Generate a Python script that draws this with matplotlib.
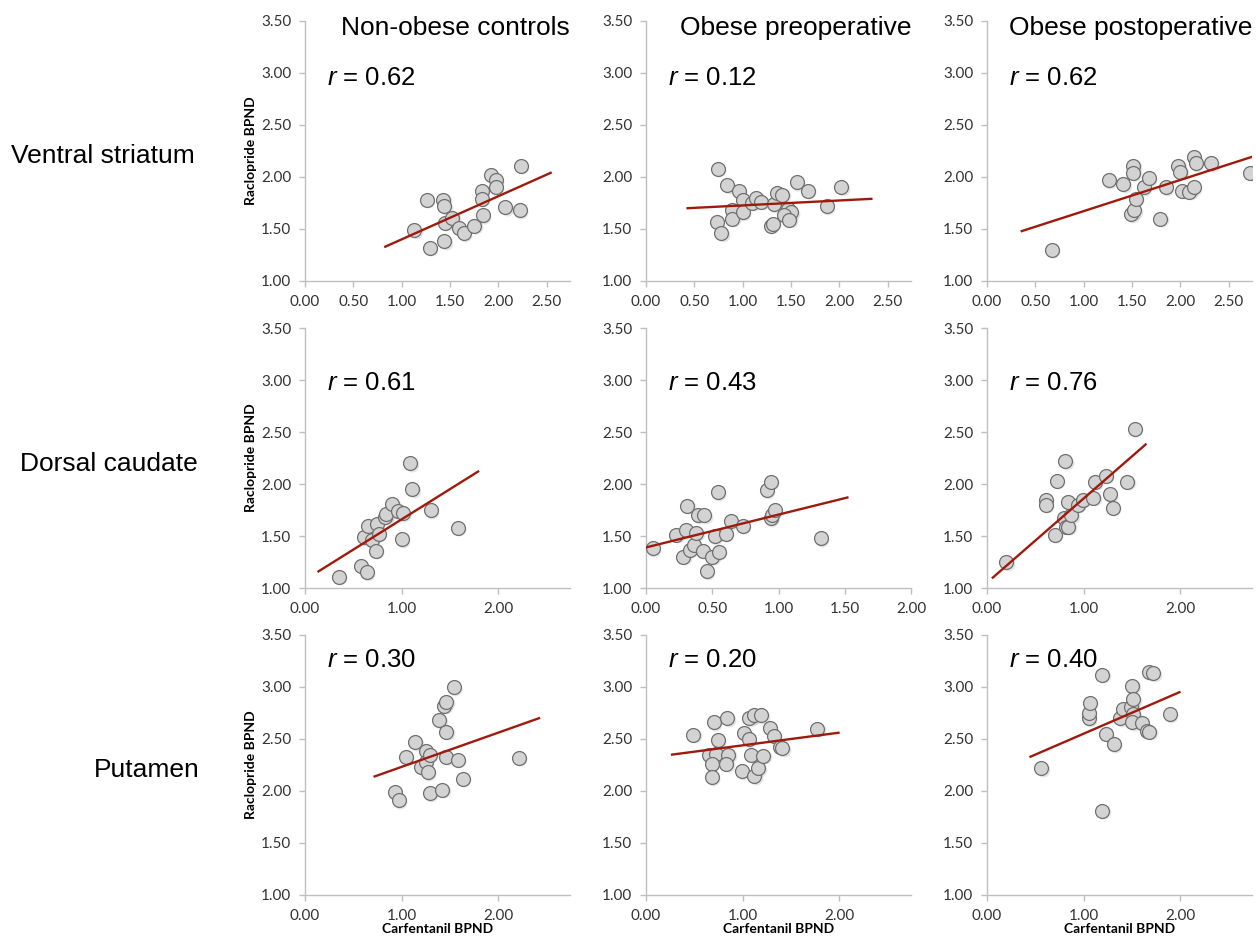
import matplotlib.pyplot as plt
from matplotlib.transforms import offset_copy

plt.rcParams['font.family'] = ['Lato', 'DejaVu Sans']
plt.rcParams['mathtext.fontset'] = 'custom'
plt.rcParams['mathtext.rm'] = 'Liberation Sans'
plt.rcParams['mathtext.it'] = 'Liberation Sans:italic'

groups = ['Non-obese controls', 'Obese preoperative', 'Obese postoperative']
regions = ['Ventral striatum', 'Dorsal caudate', 'Putamen']

# Ventral striatum (carfentanil x, raclopride y)
vs_ctrl_x = [1.13, 1.26, 1.29, 1.43, 1.44, 1.44, 1.45, 1.52, 1.59, 1.64, 1.75, 1.83, 1.83, 1.84, 1.92, 1.97, 1.97, 2.07, 2.23, 2.22]
vs_ctrl_y = [1.49, 1.78, 1.32, 1.78, 1.72, 1.38, 1.56, 1.61, 1.51, 1.46, 1.53, 1.87, 1.79, 1.63, 2.02, 1.97, 1.90, 1.71, 2.11, 1.68]
vs_pre_x = [0.74, 0.84, 0.73, 0.78, 0.96, 1.00, 0.89, 0.89, 1.00, 1.10, 1.14, 1.19, 1.32, 1.35, 1.41, 1.29, 1.31, 1.47, 1.50, 1.43, 1.48, 1.56, 1.67, 1.87, 2.02]
vs_pre_y = [2.08, 1.92, 1.57, 1.46, 1.87, 1.78, 1.68, 1.60, 1.66, 1.75, 1.80, 1.76, 1.74, 1.85, 1.83, 1.53, 1.55, 1.69, 1.66, 1.63, 1.59, 1.95, 1.87, 1.72, 1.90]
vs_post_x = [0.67, 1.26, 1.41, 1.51, 1.51, 1.49, 1.52, 1.54, 1.62, 1.67, 1.79, 1.85, 1.98, 2.00, 2.02, 2.09, 2.14, 2.14, 2.16, 2.32, 2.72]
vs_post_y = [1.30, 1.97, 1.93, 2.11, 2.04, 1.64, 1.68, 1.79, 1.90, 1.99, 1.60, 1.90, 2.11, 2.05, 1.87, 1.86, 1.90, 2.19, 2.13, 2.13, 2.04]

# Dorsal caudate
dc_ctrl_x = [0.35, 0.58, 0.64, 0.61, 0.65, 0.74, 0.69, 0.73, 0.76, 0.83, 0.84, 0.90, 0.96, 1.01, 1.00, 1.09, 1.11, 1.30, 1.58]
dc_ctrl_y = [1.11, 1.21, 1.15, 1.49, 1.60, 1.62, 1.46, 1.36, 1.52, 1.68, 1.71, 1.81, 1.74, 1.72, 1.47, 2.20, 1.95, 1.75, 1.58]
dc_pre_x = [0.05, 0.23, 0.28, 0.30, 0.31, 0.33, 0.36, 0.38, 0.39, 0.44, 0.43, 0.46, 0.50, 0.52, 0.54, 0.55, 0.60, 0.64, 0.73, 0.91, 0.94, 0.94, 0.95, 0.97, 1.32]
dc_pre_y = [1.38, 1.51, 1.30, 1.56, 1.79, 1.37, 1.41, 1.53, 1.70, 1.70, 1.36, 1.16, 1.30, 1.50, 1.92, 1.35, 1.52, 1.64, 1.60, 1.94, 2.02, 1.67, 1.70, 1.75, 1.48]
dc_post_x = [0.20, 0.70, 0.61, 0.61, 0.72, 0.81, 0.80, 0.82, 0.84, 0.87, 0.84, 0.94, 0.99, 1.10, 1.12, 1.23, 1.27, 1.30, 1.45, 1.53]
dc_post_y = [1.25, 1.51, 1.85, 1.80, 2.03, 2.22, 1.67, 1.59, 1.59, 1.70, 1.83, 1.80, 1.85, 1.87, 2.02, 2.08, 1.90, 1.77, 2.02, 2.53]

# Putamen
pu_ctrl_x = [0.93, 0.97, 1.04, 1.14, 1.20, 1.25, 1.25, 1.29, 1.27, 1.29, 1.39, 1.42, 1.44, 1.46, 1.46, 1.46, 1.54, 1.58, 1.63, 2.21]
pu_ctrl_y = [1.99, 1.91, 2.33, 2.47, 2.23, 2.38, 2.28, 2.35, 2.18, 1.98, 2.68, 2.01, 2.82, 2.86, 2.57, 2.33, 3.00, 2.30, 2.12, 2.32]
pu_pre_x = [0.49, 0.70, 0.84, 0.65, 0.72, 0.74, 0.68, 0.68, 0.85, 0.83, 0.99, 1.01, 1.06, 1.07, 1.12, 1.19, 1.09, 1.12, 1.16, 1.21, 1.28, 1.32, 1.39, 1.41, 1.77]
pu_pre_y = [2.54, 2.66, 2.70, 2.35, 2.36, 2.49, 2.26, 2.13, 2.35, 2.26, 2.19, 2.56, 2.50, 2.70, 2.73, 2.73, 2.35, 2.14, 2.22, 2.34, 2.61, 2.53, 2.42, 2.41, 2.60]
pu_post_x = [0.56, 1.05, 1.05, 1.06, 1.19, 1.19, 1.23, 1.31, 1.38, 1.41, 1.49, 1.50, 1.51, 1.51, 1.50, 1.60, 1.65, 1.68, 1.68, 1.72, 1.89]
pu_post_y = [2.22, 2.70, 2.75, 2.85, 3.12, 1.81, 2.55, 2.45, 2.70, 2.79, 2.81, 3.01, 2.88, 2.74, 2.66, 2.65, 2.58, 2.57, 3.14, 3.13, 2.74]

r_values = [['0.62', '0.12', '0.62'],
            ['0.61', '0.43', '0.76'],
            ['0.30', '0.20', '0.40']]

# trend line start/end
trend_x = [[(0.83, 2.54), (0.43, 2.33), (0.36, 2.76)],
           [(0.14, 1.79), (0.00, 1.52), (0.06, 1.64)],
           [(0.72, 2.42), (0.27, 1.99), (0.45, 1.99)]]
trend_y = [[(1.33, 2.04), (1.70, 1.79), (1.48, 2.20)],
           [(1.16, 2.12), (1.39, 1.87), (1.10, 2.38)],
           [(2.14, 2.70), (2.35, 2.56), (2.33, 2.95)]]

data = [[(vs_ctrl_x, vs_ctrl_y), (vs_pre_x, vs_pre_y), (vs_post_x, vs_post_y)],
        [(dc_ctrl_x, dc_ctrl_y), (dc_pre_x, dc_pre_y), (dc_post_x, dc_post_y)],
        [(pu_ctrl_x, pu_ctrl_y), (pu_pre_x, pu_pre_y), (pu_post_x, pu_post_y)]]

xticks_half = [0, 0.5, 1.0, 1.5, 2.0, 2.5]
xticks_unit = [0, 1.0, 2.0]
xticks_dc_pre = [0, 0.5, 1.0, 1.5, 2.0]
yticks = [1.0, 1.5, 2.0, 2.5, 3.0, 3.5]

W, H = 1256, 949
fig = plt.figure(figsize=(W / 100, H / 100), dpi=100)

lefts = [305, 646, 987]
tops = [21, 328, 635]
aw, ah = 265, 260
r_ypos = [0.782, 0.788, 0.905]
title_font = ['Liberation Sans', 'DejaVu Sans']
grid_col = '#bfbfbf'

for i in range(3):
    for j in range(3):
        ax = fig.add_axes([lefts[j] / W, 1 - (tops[i] + ah) / H, aw / W, ah / H])
        x, y = data[i][j]
        shadow = offset_copy(ax.transData, fig=fig, x=1.5, y=-1.5, units='dots')
        ax.scatter(x, y, s=100, color='black', alpha=0.10, linewidths=0, transform=shadow, zorder=2)
        ax.scatter(x, y, s=100, facecolor='#d3d3d3', edgecolor='#707070', linewidths=0.9, zorder=3)
        ax.plot(trend_x[i][j], trend_y[i][j], color='#a01a0c', lw=1.7, zorder=4)

        if i == 0:
            ticks = xticks_half
        elif i == 1 and j == 1:
            ticks = xticks_dc_pre
        else:
            ticks = xticks_unit
        ax.set_xticks(ticks)
        ax.set_xticklabels(['%.2f' % t for t in ticks])
        ax.set_yticks(yticks)
        ax.set_yticklabels(['%.2f' % t for t in yticks])
        ax.set_xlim(0, 2.0 if (i == 1 and j == 1) else 2.74)
        ax.set_ylim(1.0, 3.5)

        for s in ['top', 'right']:
            ax.spines[s].set_visible(False)
        for s in ['left', 'bottom']:
            ax.spines[s].set_color(grid_col)
            ax.spines[s].set_linewidth(1.0)
        ax.tick_params(direction='out', length=4, width=1, color=grid_col,
                       labelcolor='#333333', labelsize=11, pad=6)

        if j == 0:
            ax.set_ylabel('Raclopride BPND', fontsize=10, fontweight='bold', labelpad=3)
        if i == 2:
            ax.set_xlabel('Carfentanil BPND', fontsize=10, fontweight='bold', labelpad=0)
        if i == 0:
            ax.text(1.0, 0.973, groups[j], transform=ax.transAxes, ha='right', va='center',
                    fontsize=19, family=title_font)

        ax.text(0.083, r_ypos[i], r'$r$ = ' + r_values[i][j], transform=ax.transAxes,
                ha='left', va='center', fontsize=18.5, family=title_font)

row_label_right = [195, 198, 200]
row_label_y = [156, 464, 770]
for i in range(3):
    fig.text(row_label_right[i] / W, 1 - row_label_y[i] / H, regions[i], ha='right', va='center',
             fontsize=19, family=title_font)

fig.savefig('out.png', dpi=100)
